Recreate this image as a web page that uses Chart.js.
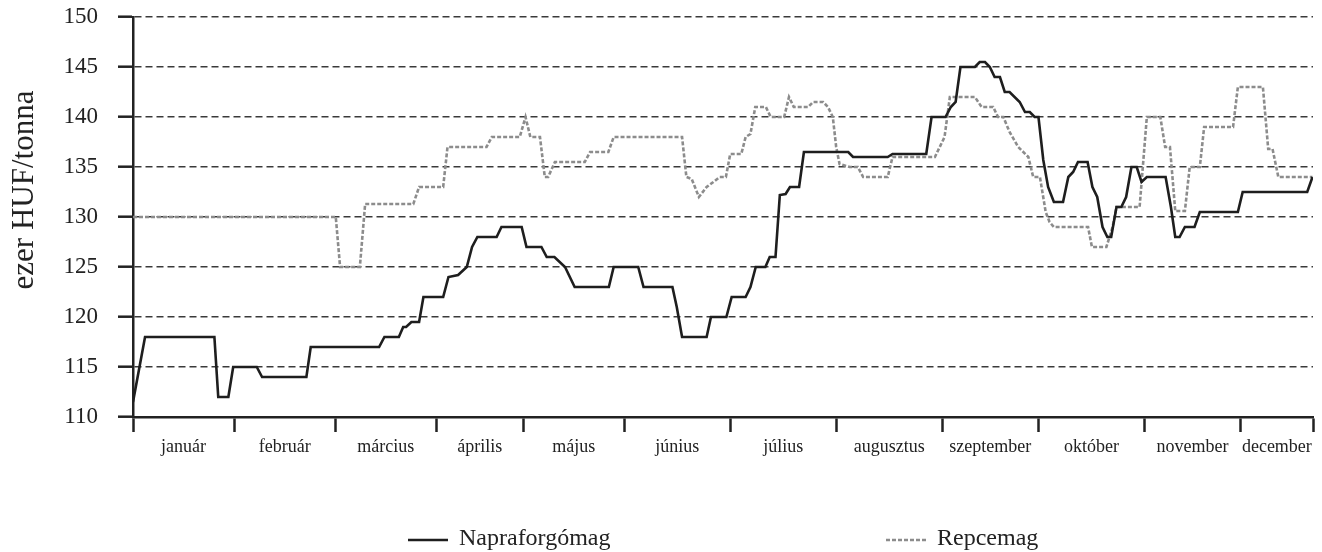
<!DOCTYPE html>
<html lang="hu">
<head>
<meta charset="utf-8">
<title>Napraforgómag és repcemag ára</title>
<script src="https://cdn.jsdelivr.net/npm/chart.js@4.4.1/dist/chart.umd.min.js"></script>
<style>
  html, body { margin: 0; padding: 0; background: #fff; }
  canvas { display: block; }
</style>
</head>
<body>
<canvas id="priceChart" width="1322" height="552"></canvas>
<script>
// months on the x axis, and the trading-day index where each one starts
const months = ['január', 'február', 'március', 'április', 'május', 'június',
  'július', 'augusztus', 'szeptember', 'október', 'november', 'december'];
const monthStarts = [0, 21, 42, 63, 81, 102, 124, 146, 168, 188, 210, 230, 245];

// y axis
const yTicks = [110, 115, 120, 125, 130, 135, 140, 145, 150];

// Napraforgómag: corners of the line (trading day, ezer HUF/tonna)
const napraDay = [0, 2.5, 16.9, 17.7, 19.8, 20.8, 25.7, 26.8, 36, 36.9, 51.1, 52.2, 55.2, 56.1, 56.7,
  57.8, 59.4, 60.3, 64.4, 65.5, 67.5, 69.3, 70.4, 71.5, 75.5, 76.5, 80.7, 81.7, 84.8, 85.9,
  87.5, 89.7, 91.7, 98.8, 99.8, 104.9, 106, 112, 112.9, 114, 119.1, 120, 123.2, 124.3, 127.2,
  128.2, 129.3, 131.3, 132.2, 133.4, 134.3, 135.5, 136.4, 138.3, 139.3, 148.5, 149.5, 156.7, 157.7,
  164.7, 165.8, 168.7, 169.8, 170.8, 171.8, 174.8, 175.8, 176.9, 177.9, 178.9, 180, 181, 182,
  184.1, 185.2, 186.2, 187.2, 188, 189, 190, 191.2, 193.1, 194.2, 195.2, 196.2, 198.2, 199.2,
  200.2, 201.3, 202.3, 203.1, 204.2, 205.2, 206.2, 207.3, 208.4, 209.4, 210.5, 214.4, 215.5,
  216.4, 217.3, 218.4, 220.4, 221.5, 229.4, 230.4, 243.8, 244.9];
const napraValue = [111.5, 118, 118, 112, 112, 115, 115, 114, 114, 117, 117, 118, 118, 119, 119,
  119.5, 119.5, 122, 122, 124, 124.2, 125, 127, 128, 128, 129, 129, 127, 127, 126,
  126, 125, 123, 123, 125, 125, 123, 123, 121, 118, 118, 120, 120, 122, 122,
  123, 125, 125, 126, 126, 132.2, 132.3, 133, 133, 136.5, 136.5, 136, 136, 136.3,
  136.3, 140, 140, 141, 141.5, 145, 145, 145.5, 145.5, 145, 144, 144, 142.5, 142.5,
  141.5, 140.5, 140.5, 140, 140, 135.7, 133, 131.5, 131.5, 134, 134.5, 135.5, 135.5, 133,
  132, 129, 128, 128, 131, 131, 132, 135, 135, 133.5, 134, 134, 131,
  128, 128, 129, 129, 130.5, 130.5, 132.5, 132.5, 134];

// Repcemag
const repceDay = [0, 42.1, 43, 47.1, 48.2, 58.2, 59.4, 64.4, 65.3, 73.4, 74.5, 80.3, 81.5, 82.5,
  84.5, 85.5, 86.2, 87.6, 93.8, 94.9, 98.7, 99.8, 114, 114.9, 116, 117.5, 119.1, 120.5, 121.8,
  123.1, 124, 126.3, 127.2, 128.2, 129.2, 131.4, 132.4, 135.2, 136.2, 137.2, 140.2, 141.2, 143.3,
  144.3, 145.3, 146, 146.7, 148.8, 150.5, 151.6, 156.7, 157.7, 166.5, 167.5, 168.5, 169.6, 174.8,
  176.2, 178.6, 179.6, 180.7, 182, 183.8, 185.9, 186.9, 188.3, 189.5, 190.3, 191.2, 198.3, 199.1,
  202.1, 203.4, 204.2, 209, 210.5, 213.3, 214.3, 215.3, 216.4, 218.4, 219.4, 221.5, 222.4, 228.4,
  229.4, 234.6, 235.7, 236.6, 237.8, 244.9];
const repceValue = [130, 130, 125, 125, 131.3, 131.3, 133, 133, 137, 137, 138, 138, 140, 138,
  138, 134, 134, 135.5, 135.5, 136.5, 136.5, 138, 138, 134, 133.8, 132, 133, 133.5, 134,
  134, 136.3, 136.3, 138, 138.3, 141, 141, 140, 140, 142, 141, 141, 141.5, 141.5,
  141, 140, 137, 135.3, 135, 135, 134, 134, 136, 136, 137, 138, 142, 142,
  141, 141, 140, 140, 138.5, 137, 136, 134, 134, 130.5, 129.5, 129, 129, 127,
  127, 129, 131, 131, 140, 140, 137, 137, 130.6, 130.6, 135, 135, 139, 139,
  143, 143, 136.8, 136.8, 134, 134];

const FONT = "'Liberation Serif', 'Times New Roman', serif";

const monthMids = months.map((m, i) => (monthStarts[i] + monthStarts[i + 1]) / 2);
const isMonthStart = v => monthStarts.includes(v);

function toPoints(days, values) {
  return days.map((d, i) => ({ x: d, y: values[i] }));
}

// y title sits a bit above the middle of the axis, so it is drawn here
const yTitlePlugin = {
  id: 'yTitle',
  afterDraw(chart) {
    const ctx = chart.ctx;
    ctx.save();
    ctx.translate(25, 190);
    ctx.rotate(-Math.PI / 2);
    ctx.font = '31px ' + FONT;
    ctx.fillStyle = '#222';
    ctx.textAlign = 'center';
    ctx.textBaseline = 'middle';
    ctx.fillText('ezer HUF/tonna', 0, 0);
    ctx.restore();
  }
};

// the two legend entries stand far apart, which the built-in legend can't do
const legendSpots = [408, 886];
const splitLegendPlugin = {
  id: 'splitLegend',
  afterDraw(chart) {
    const ctx = chart.ctx;
    const y = 540;
    chart.data.datasets.forEach((ds, i) => {
      const x = legendSpots[i];
      ctx.save();
      ctx.strokeStyle = ds.borderColor;
      ctx.lineWidth = ds.borderWidth;
      ctx.setLineDash(ds.borderDash || []);
      ctx.beginPath();
      ctx.moveTo(x, y);
      ctx.lineTo(x + 40, y);
      ctx.stroke();
      ctx.setLineDash([]);
      ctx.font = '24px ' + FONT;
      ctx.fillStyle = '#222';
      ctx.textBaseline = 'middle';
      ctx.fillText(ds.label, x + 51, y - 1);
      ctx.restore();
    });
  }
};

new Chart(document.getElementById('priceChart'), {
  type: 'line',
  data: {
    datasets: [
      {
        label: 'Napraforgómag',
        data: toPoints(napraDay, napraValue),
        borderColor: '#1e1e1e',
        borderWidth: 2.6,
        pointRadius: 0,
        tension: 0,
        fill: false
      },
      {
        label: 'Repcemag',
        data: toPoints(repceDay, repceValue),
        borderColor: '#8c8c8c',
        borderWidth: 2.6,
        borderDash: [4, 2],
        pointRadius: 0,
        tension: 0,
        fill: false
      }
    ]
  },
  options: {
    responsive: false,
    animation: false,
    devicePixelRatio: 1,
    layout: { padding: { top: 17, right: 9, left: 0, bottom: 0 } },
    plugins: {
      legend: { display: false },
      tooltip: { enabled: false }
    },
    scales: {
      x: {
        type: 'linear',
        min: monthStarts[0],
        max: monthStarts[monthStarts.length - 1],
        afterBuildTicks: scale => {
          scale.ticks = monthStarts.concat(monthMids)
            .sort((a, b) => a - b)
            .map(v => ({ value: v }));
        },
        afterFit: scale => {
          scale.height = 135;
          scale.paddingLeft = 0;
          scale.paddingRight = 0;
        },
        ticks: {
          autoSkip: false,
          maxRotation: 0,
          minRotation: 0,
          padding: 4,
          color: '#222',
          font: { family: FONT, size: 18 },
          callback: value => {
            const i = monthMids.indexOf(value);
            return i >= 0 ? months[i] : '';
          }
        },
        grid: {
          display: true,
          drawOnChartArea: false,
          drawTicks: true,
          tickLength: 15,
          tickWidth: 2.5,
          tickColor: ctx => (ctx.tick && isMonthStart(ctx.tick.value)) ? '#222' : 'rgba(0,0,0,0)'
        },
        border: { display: true, color: '#222', width: 2.5 }
      },
      y: {
        min: 110,
        max: 150,
        afterBuildTicks: scale => {
          scale.ticks = yTicks.map(v => ({ value: v }));
        },
        afterFit: scale => {
          scale.width = 133;
          scale.paddingTop = 0;
          scale.paddingBottom = 0;
        },
        ticks: {
          padding: 20,
          color: '#222',
          font: { family: FONT, size: 23 }
        },
        grid: {
          color: '#3a3a3a',
          lineWidth: 1.4,
          drawTicks: true,
          tickLength: 15,
          tickWidth: 2.5,
          tickColor: '#222',
          tickBorderDash: []
        },
        border: { display: true, color: '#222', width: 2.5, dash: [7, 4] }
      }
    }
  },
  plugins: [yTitlePlugin, splitLegendPlugin]
});
</script>
</body>
</html>
